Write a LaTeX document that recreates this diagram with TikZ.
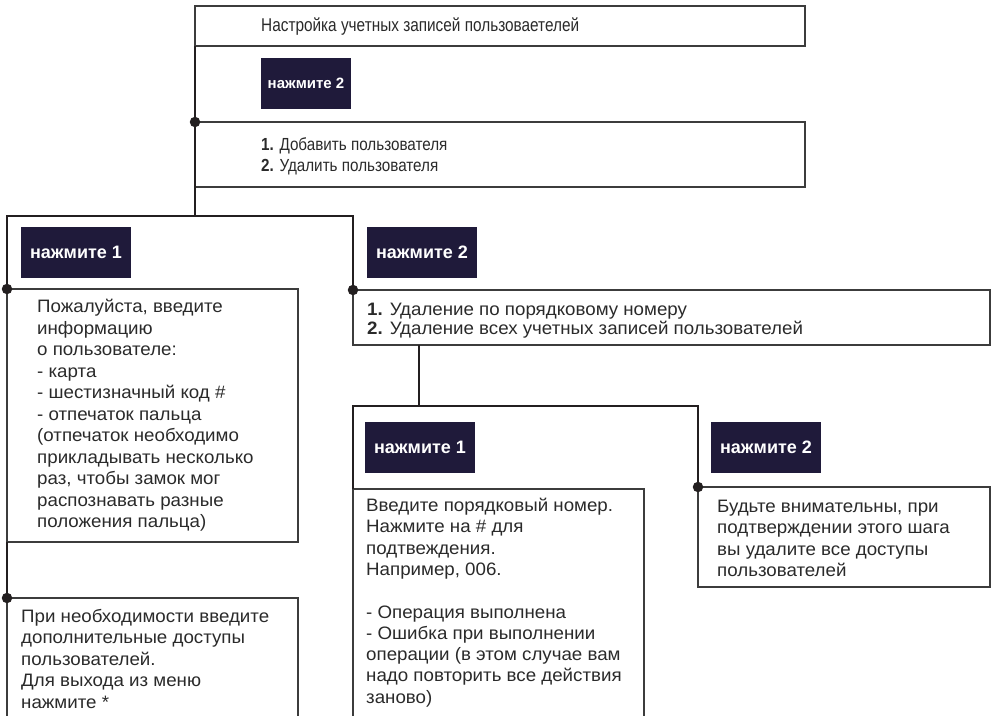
\documentclass[tikz,border=0pt]{standalone}
\usepackage{fontspec}
\setmainfont[FakeStretch=1.04]{Liberation Sans}
\newfontfamily\narrowfont[FakeStretch=0.83]{Liberation Sans}
\newfontfamily\optsfont[FakeStretch=0.87]{Liberation Sans}
\newfontfamily\badgefont{Liberation Sans}
\definecolor{badgecol}{HTML}{1F1A3A}
\definecolor{ink}{HTML}{2A2A2A}
\definecolor{edgecol}{HTML}{3C3C3C}
\definecolor{wirecol}{HTML}{231F20}
\begin{document}
\begin{tikzpicture}[x=1pt,y=-1pt,
  panel/.style={draw=edgecol,line width=1.2pt,anchor=north west,inner sep=0pt,outer sep=0pt},
  badgebox/.style={fill=badgecol,text=white,anchor=north west,minimum width=110pt,minimum height=51pt,inner sep=0pt,outer sep=0pt,font=\badgefont\bfseries\fontsize{18}{18}\selectfont},
  body/.style={anchor=north west,inner sep=0pt,align=left,text=ink,font=\fontsize{18}{21.5}\selectfont},
  wire/.style={draw=wirecol,line width=2.6pt},
  jdot/.style={circle,fill=wirecol,inner sep=0pt,minimum size=10.5pt}]
\useasboundingbox (0,0) rectangle (995,715);
\clip (0,0) rectangle (995,715);

% boxes
\node[panel,minimum width=610pt,minimum height=40pt] (top) at (195,6) {};
\node[panel,minimum width=610pt,minimum height=65pt] (opts) at (195,122) {};
\node[panel,minimum width=291pt,minimum height=253pt] (info) at (7,289) {};
\node[panel,minimum width=291pt,minimum height=140pt] (add) at (7,598) {};
\node[panel,minimum width=637pt,minimum height=55pt] (del) at (353,290) {};
\node[panel,minimum width=291pt,minimum height=240pt] (num) at (353,489) {};
\node[panel,minimum width=292pt,minimum height=100pt] (warn) at (698,487) {};

% texts
\node[anchor=west,inner sep=0pt,text=ink,font=\narrowfont\fontsize{18.5}{18.5}\selectfont] (toptext) at (261,27) {Настройка учетных записей пользоваетелей};
\node[body,font=\optsfont\fontsize{17.5}{21}\selectfont] (optstext) at (261,137) {\textbf{1.} Добавить пользователя\\\textbf{2.} Удалить пользователя};
\node[body] (infotext) at (37,299) {Пожалуйста, введите\\информацию\\о пользователе:\\- карта\\- шестизначный код \#\\- отпечаток пальца\\(отпечаток необходимо\\прикладывать несколько\\раз, чтобы замок мог\\распознавать разные\\положения пальца)};
\node[body] (addtext) at (21,609) {При необходимости введите\\дополнительные доступы\\пользователей.\\Для выхода из меню\\нажмите *};
\node[body,font=\fontsize{18}{19}\selectfont] (deltext) at (367,303) {\textbf{1.} Удаление по порядковому номеру\\\textbf{2.} Удаление всех учетных записей пользователей};
\node[body,font=\fontsize{18}{21.3}\selectfont] (numtext) at (366,498) {Введите порядковый номер.\\Нажмите на \# для\\подтвеждения.\\Например, 006.\\[21.3pt]- Операция выполнена\\- Ошибка при выполнении\\операции (в этом случае вам\\надо повторить все действия\\заново)};
\node[body,font=\fontsize{18}{21.3}\selectfont] (warntext) at (717,500) {Будьте внимательны, при\\подтверждении этого шага\\вы удалите все доступы\\пользователей};

% badges
\node[badgebox,minimum width=90pt,font=\badgefont\bfseries\fontsize{15}{15}\selectfont] (b0) at (261,58) {нажмите 2};
\node[badgebox] (bl1) at (21,227) {нажмите 1};
\node[badgebox] (br2) at (367,227) {нажмите 2};
\node[badgebox] (bm1) at (365,422) {нажмите 1};
\node[badgebox] (bm2) at (711,422) {нажмите 2};

% junction coordinates
\coordinate (j0) at (195,216);
\coordinate (jl) at (7,216);
\coordinate (jr) at (353,216);
\coordinate (ktop) at (419,345);
\coordinate (k0) at (419,406);
\coordinate (kl) at (353,406);
\coordinate (kr) at (698,406);

% wires
\draw[wire] (top.south west) -- (j0);
\draw[wire] (info.north west) -- (jl) -- (jr) -- (del.north west);
\draw[wire] (info.south west) -- (add.north west);
\draw[wire] (ktop) -- (k0);
\draw[wire] (num.north west) -- (kl) -- (kr) -- (warn.north west);

% dots
\node[jdot] at (opts.north west) {};
\node[jdot] at (info.north west) {};
\node[jdot] at (del.north west) {};
\node[jdot] at (add.north west) {};
\node[jdot] at (warn.north west) {};
\end{tikzpicture}
\end{document}
